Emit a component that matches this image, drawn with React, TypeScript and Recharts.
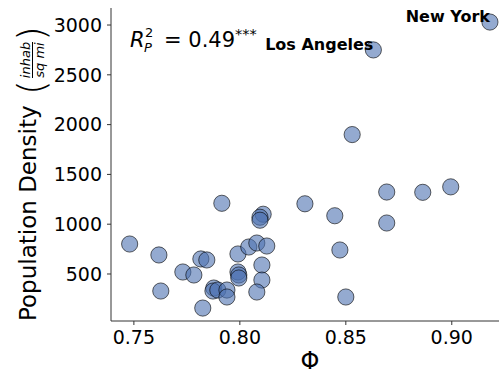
import React from "react";
import { ScatterChart, Scatter, XAxis, YAxis, Customized } from "recharts";

// Φ values (x)
const phi = [
  0.918, 0.863, 0.853, 0.7915, 0.811, 0.8095, 0.8095, 0.8307, 0.8448, 0.8693,
  0.8863, 0.8995, 0.8693, 0.748, 0.7618, 0.7627, 0.7731, 0.7783, 0.7816, 0.7844,
  0.7825, 0.7877, 0.7873, 0.7896, 0.7939, 0.7939, 0.7991, 0.7991, 0.7995, 0.7995,
  0.8042, 0.808, 0.8127, 0.8104, 0.8104, 0.808, 0.8472, 0.85,
];
// Population density (y)
const density = [
  3030, 2750, 1900, 1210, 1100, 1070, 1040, 1205, 1085, 1323,
  1320, 1375, 1012, 801, 691, 329, 520, 490, 651, 641,
  158, 359, 329, 339, 339, 269, 701, 520, 490, 460,
  771, 811, 781, 590, 439, 319, 741, 269,
];
// City names (labelled points)
const names = ["New York", "Los Angeles"];

const xTicks = [0.75, 0.8, 0.85, 0.9];
const yTicks = [500, 1000, 1500, 2000, 2500, 3000];
const xDomain = [0.7392, 0.927];
const yDomain = [28, 3171];

const data = phi.map((x, i) => ({ x, y: density[i], name: names[i] || "" }));

const FONT = "DejaVu Sans";

const Dot = (props: any) => {
  const { cx, cy, payload } = props;
  return (
    <g>
      <circle cx={cx} cy={cy} r={8.1} fill="#4C72B0" fillOpacity={0.6} stroke="#000" strokeOpacity={0.6} strokeWidth={1} />
      {payload.name ? (
        <text x={cx} y={cy} textAnchor="end" fontFamily={FONT} fontWeight="bold" fontSize={16} fill="#000">
          {payload.name}
        </text>
      ) : null}
    </g>
  );
};

const YLabel = (props: any) => {
  const vb = props.viewBox || { x: 0, y: 8, width: 111, height: 313 };
  const bx = vb.x + 36;
  const by = vb.y + vb.height;
  return (
    <g transform={`translate(${bx},${by}) rotate(-90)`} fontFamily={FONT} fill="#000">
      <text x={0} y={0} fontSize={23}>Population Density</text>
      <text x={226} y={8} fontSize={38} fontWeight={300}>(</text>
      <text x={261} y={-6} fontSize={13} fontStyle="italic" textAnchor="middle">inhab</text>
      <line x1={243} x2={279} y1={-3.5} y2={-3.5} stroke="#000" strokeWidth={1} />
      <text x={261} y={8} fontSize={13} fontStyle="italic" textAnchor="middle">sq mi</text>
      <text x={280} y={8} fontSize={38} fontWeight={300}>)</text>
    </g>
  );
};

const XLabel = (props: any) => {
  const vb = props.viewBox || { x: 111, y: 321, width: 398, height: 53 };
  return (
    <text x={vb.x + vb.width / 2} y={vb.y + 48} textAnchor="middle" fontFamily={FONT} fontSize={24} fill="#000">
      Φ
    </text>
  );
};

const Annotation = () => (
  <g fontFamily={FONT} fill="#000">
    <text x={130} y={47} fontSize={21} fontStyle="italic">R</text>
    <text x={145} y={37} fontSize={13}>2</text>
    <text x={144} y={52} fontSize={13} fontStyle="italic">P</text>
    <text x={164} y={47} fontSize={21}>= 0.49</text>
    <text x={235} y={39} fontSize={14.5}>***</text>
  </g>
);

export default function App() {
  return (
    <div style={{ position: "absolute", left: 0, top: 0, width: 499, height: 374, overflow: "hidden", background: "#fff" }}>
      <ScatterChart width={510} height={374} margin={{ top: 8, right: 1, bottom: 0, left: 0 }}>
        <XAxis
          dataKey="x"
          type="number"
          domain={xDomain}
          allowDataOverflow
          ticks={xTicks}
          tickFormatter={(v: number) => v.toFixed(2)}
          height={53}
          tickSize={4}
          tickMargin={6}
          stroke="#333"
          tick={{ fill: "#000", fontSize: 19, fontFamily: FONT }}
          label={{ content: XLabel }}
        />
        <XAxis
          xAxisId="top"
          orientation="top"
          type="number"
          domain={xDomain}
          allowDataOverflow
          height={0}
          tick={false}
          tickLine={false}
          stroke="#333"
        />
        <YAxis
          dataKey="y"
          type="number"
          domain={yDomain}
          allowDataOverflow
          ticks={yTicks}
          width={111}
          tickSize={4}
          tickMargin={5}
          stroke="#333"
          tick={{ fill: "#000", fontSize: 19, fontFamily: FONT }}
          label={{ content: YLabel }}
        />
        <Scatter data={data} shape={Dot} isAnimationActive={false} />
        <Customized component={Annotation} />
      </ScatterChart>
    </div>
  );
}
